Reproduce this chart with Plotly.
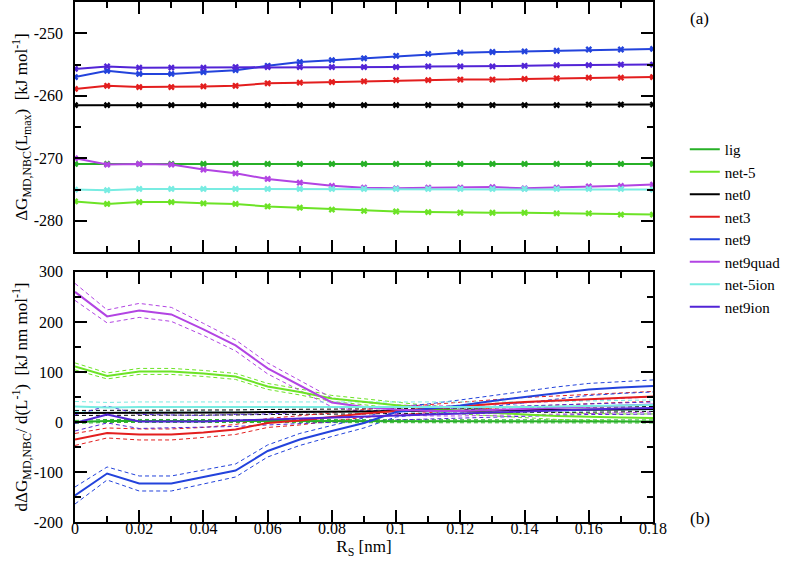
import plotly.graph_objects as go

# ---------------- data ----------------
rs = [0.00, 0.01, 0.02, 0.03, 0.04, 0.05, 0.06, 0.07, 0.08, 0.09,
      0.10, 0.11, 0.12, 0.13, 0.14, 0.15, 0.16, 0.17, 0.18]

series_names = ["lig", "net-5", "net0", "net3", "net9", "net9quad", "net-5ion", "net9ion"]

# top panel: dG_MD,NBC(Lmax) [kJ/mol]
top_lig      = [-270.9, -270.9, -270.9, -270.9, -270.9, -270.9, -270.9, -270.9, -270.9, -270.9,
                -270.9, -270.9, -270.9, -270.9, -270.9, -270.9, -270.9, -270.9, -270.9]
top_net_5    = [-276.9, -277.3, -277.0, -277.0, -277.2, -277.3, -277.7, -277.9, -278.2, -278.4,
                -278.5, -278.6, -278.7, -278.7, -278.7, -278.8, -278.8, -279.0, -279.0]
top_net0     = [-261.5, -261.5, -261.5, -261.5, -261.5, -261.5, -261.5, -261.5, -261.5, -261.5,
                -261.5, -261.5, -261.5, -261.5, -261.5, -261.5, -261.4, -261.4, -261.4]
top_net3     = [-258.9, -258.4, -258.6, -258.6, -258.5, -258.4, -258.0, -257.9, -257.8, -257.7,
                -257.5, -257.5, -257.4, -257.4, -257.3, -257.2, -257.1, -257.1, -257.0]
top_net9     = [-257.0, -256.0, -256.5, -256.5, -256.2, -255.9, -255.2, -254.6, -254.3, -254.0,
                -253.6, -253.3, -253.1, -253.0, -252.9, -252.8, -252.6, -252.6, -252.5]
top_net9quad = [-270.0, -271.0, -270.9, -271.0, -271.8, -272.4, -273.3, -273.9, -274.4, -274.7,
                -274.8, -274.7, -274.7, -274.6, -274.8, -274.7, -274.5, -274.4, -274.2]
top_net_5ion = [-275.0, -275.1, -274.9, -274.9, -274.9, -274.9, -274.9, -274.9, -274.9, -274.9,
                -274.9, -274.9, -274.9, -274.9, -274.9, -274.9, -274.9, -274.9, -275.0]
top_net9ion  = [-255.7, -255.3, -255.5, -255.5, -255.5, -255.4, -255.4, -255.4, -255.4, -255.4,
                -255.4, -255.3, -255.3, -255.3, -255.2, -255.1, -255.1, -255.0, -255.0]

# bottom panel: d dG / d(1/L) [kJ nm/mol] and its uncertainty
bot_lig      = [0, 2, 2, 2, 2, 2, 2, 2, 2, 1, 1, 1, 1, 1, 1, 1, 1, 1, 1]
err_lig      = [3, 3, 3, 3, 3, 3, 3, 3, 3, 3, 3, 3, 3, 3, 3, 3, 3, 3, 3]
bot_net_5    = [111, 92, 101, 101, 97, 91, 71, 60, 47, 40, 33, 27, 22, 18, 15, 12, 10, 9, 8]
err_net_5    = [7, 6, 6, 6, 6, 6, 6, 6, 6, 6, 6, 6, 6, 6, 7, 7, 7, 7, 8]
bot_net0     = [18, 18, 19, 19, 19, 19, 20, 20, 21, 21, 22, 22, 23, 23, 24, 24, 25, 25, 26]
err_net0     = [5, 5, 5, 5, 5, 5, 5, 5, 5, 5, 5, 5, 5, 5, 5, 5, 5, 5, 5]
bot_net3     = [-35, -22, -25, -25, -21, -15, -2, 3, 10, 17, 22, 27, 32, 36, 40, 43, 46, 48, 51]
err_net3     = [12, 10, 11, 11, 10, 10, 9, 9, 8, 8, 8, 8, 8, 8, 9, 9, 9, 9, 10]
bot_net9     = [-147, -103, -123, -123, -110, -97, -58, -35, -18, -2, 20, 26, 33, 42, 50, 58, 65, 69, 72]
err_net9     = [17, 13, 15, 15, 14, 13, 12, 12, 11, 10, 10, 10, 11, 11, 12, 12, 12, 12, 12]
bot_net9quad = [260, 211, 223, 215, 185, 153, 107, 73, 39, 30, 25, 22, 22, 24, 26, 28, 30, 32, 35]
err_net9quad = [17, 13, 14, 14, 12, 11, 11, 10, 9, 9, 9, 10, 10, 11, 12, 13, 14, 14, 15]
bot_net_5ion = [31, 29, 30, 30, 30, 30, 30, 30, 30, 30, 29, 29, 29, 30, 30, 31, 32, 33, 34]
err_net_5ion = [10, 10, 10, 10, 10, 10, 10, 10, 10, 10, 10, 10, 10, 10, 10, 10, 10, 10, 10]
bot_net9ion  = [-2, 15, 1, 1, 1, 3, 5, 8, 10, 12, 14, 16, 18, 20, 22, 24, 26, 27, 28]
err_net9ion  = [16, 17, 14, 13, 12, 12, 11, 11, 10, 10, 10, 10, 10, 10, 10, 11, 11, 12, 12]

# tick labels
x_ticks = [0, 0.02, 0.04, 0.06, 0.08, 0.1, 0.12, 0.14, 0.16, 0.18]
x_ticklabels = ["0", "0.02", "0.04", "0.06", "0.08", "0.1", "0.12", "0.14", "0.16", "0.18"]
x_minor = [0.01, 0.03, 0.05, 0.07, 0.09, 0.11, 0.13, 0.15, 0.17]
top_yticks = [-280, -270, -260, -250]
top_yticklabels = ["-280", "-270", "-260", "-250"]
bot_yticks = [-200, -100, 0, 100, 200, 300]
bot_yticklabels = ["-200", "-100", "0", "100", "200", "300"]

top_vals = [top_lig, top_net_5, top_net0, top_net3, top_net9, top_net9quad, top_net_5ion, top_net9ion]
bot_vals = [bot_lig, bot_net_5, bot_net0, bot_net3, bot_net9, bot_net9quad, bot_net_5ion, bot_net9ion]
bot_errs = [err_lig, err_net_5, err_net0, err_net3, err_net9, err_net9quad, err_net_5ion, err_net9ion]

colors = ["#27b027", "#6ce326", "#000000", "#e31e1e", "#2343dc", "#b244e3", "#78ece2", "#5224d6"]

# ---------------- figure ----------------
FONT = "Liberation Serif"
fig = go.Figure()

for name, vals, col in zip(series_names, top_vals, colors):
    fig.add_trace(go.Scatter(x=rs, y=vals, mode="lines+markers", name=name,
                             line=dict(color=col, width=2),
                             marker=dict(symbol="x", size=6, color=col),
                             xaxis="x", yaxis="y", showlegend=False))

for name, vals, errs, col in zip(series_names, bot_vals, bot_errs, colors):
    up = [v + e for v, e in zip(vals, errs)]
    lo = [v - e for v, e in zip(vals, errs)]
    fig.add_trace(go.Scatter(x=rs, y=up, mode="lines", line=dict(color=col, width=1, dash="4px,3px"),
                             xaxis="x2", yaxis="y2", showlegend=False, hoverinfo="skip"))
    fig.add_trace(go.Scatter(x=rs, y=lo, mode="lines", line=dict(color=col, width=1, dash="4px,3px"),
                             xaxis="x2", yaxis="y2", showlegend=False, hoverinfo="skip"))

for name, vals, col in zip(series_names, bot_vals, colors):
    fig.add_trace(go.Scatter(x=rs, y=vals, mode="lines", name=name,
                             line=dict(color=col, width=2),
                             xaxis="x2", yaxis="y2", showlegend=True))

axis_common = dict(showline=True, linecolor="black", linewidth=1.5, mirror="ticks",
                   ticks="inside", ticklen=12, tickwidth=1.5, tickcolor="black",
                   showgrid=False, zeroline=False, automargin=False,
                   tickfont=dict(family=FONT, size=16, color="black"))
minor_common = dict(ticks="inside", ticklen=6, tickcolor="black", tickwidth=1.5, showgrid=False)

fig.update_layout(
    template="simple_white",
    width=798, height=569,
    margin=dict(l=75, r=145, t=2, b=47, autoexpand=False),
    paper_bgcolor="white", plot_bgcolor="white",
    font=dict(family=FONT, size=16, color="black"),
    xaxis=dict(domain=[0, 1], range=[0, 0.18], anchor="y", tickvals=x_ticks, showticklabels=False,
               minor=dict(tickvals=x_minor, **minor_common), **axis_common),
    yaxis=dict(domain=[0.519, 1], range=[-285, -245], anchor="x",
               tickvals=top_yticks, ticktext=top_yticklabels,
               minor=dict(dtick=5, **minor_common), ticklabelstandoff=7,
               title=dict(text="ΔG<sub>MD,NBC</sub>(L<sub>max</sub>)  [kJ mol<sup>-1</sup>]",
                          font=dict(family=FONT, size=17), standoff=0),
               **axis_common),
    xaxis2=dict(domain=[0, 1], range=[0, 0.18], anchor="y2",
                tickvals=x_ticks, ticktext=x_ticklabels,
                minor=dict(tickvals=x_minor, **minor_common),
                ticklabelstandoff=-9,
                title=dict(text="R<sub>S</sub> [nm]", font=dict(family=FONT, size=17), standoff=2),
                **axis_common),
    yaxis2=dict(domain=[0, 0.481], range=[-200, 300], anchor="x2",
                tickvals=bot_yticks, ticktext=bot_yticklabels,
                minor=dict(dtick=50, **minor_common), ticklabelstandoff=7,
                title=dict(text="dΔG<sub>MD,NBC</sub>/ d(L<sup>-1</sup>)  [kJ nm mol<sup>-1</sup>]",
                           font=dict(family=FONT, size=17), standoff=0),
                **axis_common),
    legend=dict(x=1.055, y=0.748, xanchor="left", yanchor="top",
                font=dict(family=FONT, size=15, color="black"),
                bgcolor="rgba(0,0,0,0)", tracegroupgap=0, itemwidth=30),
    annotations=[
        dict(text="(a)", x=1.06, y=0.969, xref="paper", yref="paper", showarrow=False,
             xanchor="left", yanchor="middle", font=dict(family=FONT, size=17)),
        dict(text="(b)", x=1.06, y=0.006, xref="paper", yref="paper", showarrow=False,
             xanchor="left", yanchor="middle", font=dict(family=FONT, size=17)),
    ],
)

fig.write_html("out.html", config={"displayModeBar": False},
               post_script="document.body.style.margin='0';")
